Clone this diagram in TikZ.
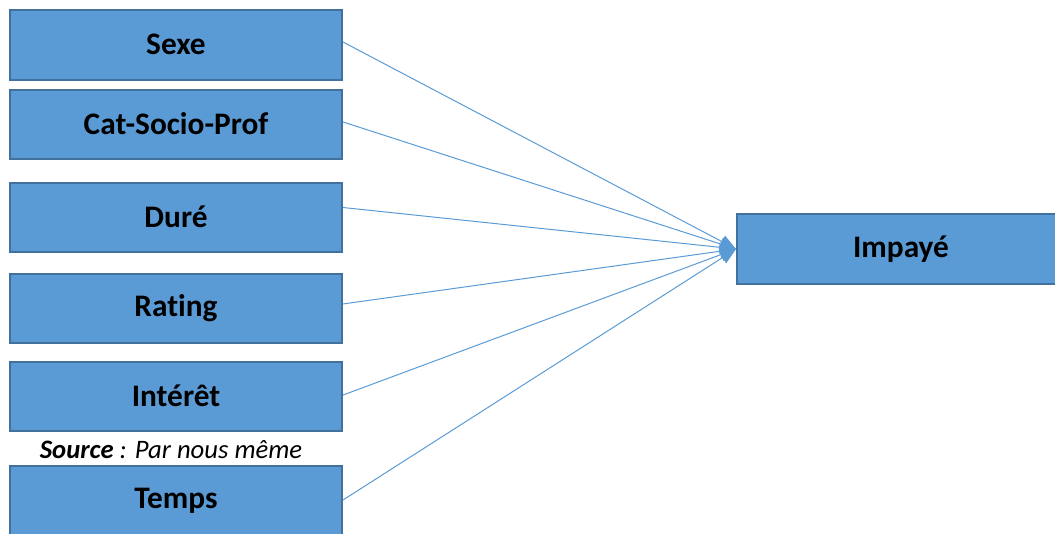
\documentclass[tikz,border=0pt]{standalone}
\usepackage{fontspec}
\setmainfont[Ligatures=NoCommon]{Carlito}
\usetikzlibrary{arrows.meta}
\definecolor{boxfill}{HTML}{5B9BD5}
\definecolor{boxdraw}{HTML}{41719C}
\definecolor{linkcol}{HTML}{5B9BD5}
\begin{document}
\begin{tikzpicture}[x=0.75pt,y=-0.75pt,
  box/.style={draw=boxdraw,fill=boxfill,line width=1.5pt,rectangle,inner sep=0pt,
    font=\fontsize{23.5}{28}\selectfont\bfseries,text=black},
  lbox/.style={box,minimum width=249pt,minimum height=52pt},
  link/.style={draw=linkcol,line width=0.75pt,-{Triangle[length=12pt,width=10pt]}}]
\path[use as bounding box] (0,0) rectangle (1055,533);
\begin{scope}
\clip (0,0) rectangle (1055,533);
\node[lbox] (sexe) at (176,45) {\raisebox{1.2pt}{Sexe}};
\node[lbox] (cat) at (176,124.5) {\raisebox{1.2pt}{Cat-Socio-Prof}};
\node[lbox] (dure) at (176,217.5) {\raisebox{1.2pt}{Duré}};
\node[lbox] (rating) at (176,308.5) {\raisebox{1.2pt}{Rating}};
\node[lbox] (interet) at (176,396.5) {\raisebox{1.2pt}{Intérêt}};
\node[lbox] (temps) at (176,501) {\raisebox{1.2pt}{Temps}};
\node[box,minimum width=246pt,minimum height=52.5pt] (imp) at (901,249) {\raisebox{1.2pt}{Impayé}};
\node[font=\fontsize{20}{24}\selectfont\itshape] (src) at (171,450) {\textbf{Source} : Par nous même};
\draw[link] ([yshift=2.25pt]sexe.east) -- (imp.west);
\draw[link] ([yshift=1.9pt]cat.east) -- (imp.west);
\draw[link] ([yshift=7.5pt]dure.east) -- (imp.west);
\draw[link] ([yshift=3.4pt]rating.east) -- (imp.west);
\draw[link] ([yshift=1.1pt]interet.east) -- (imp.west);
\draw[link] ([yshift=0.75pt]temps.east) -- (imp.west);
\end{scope}
\end{tikzpicture}
\end{document}
